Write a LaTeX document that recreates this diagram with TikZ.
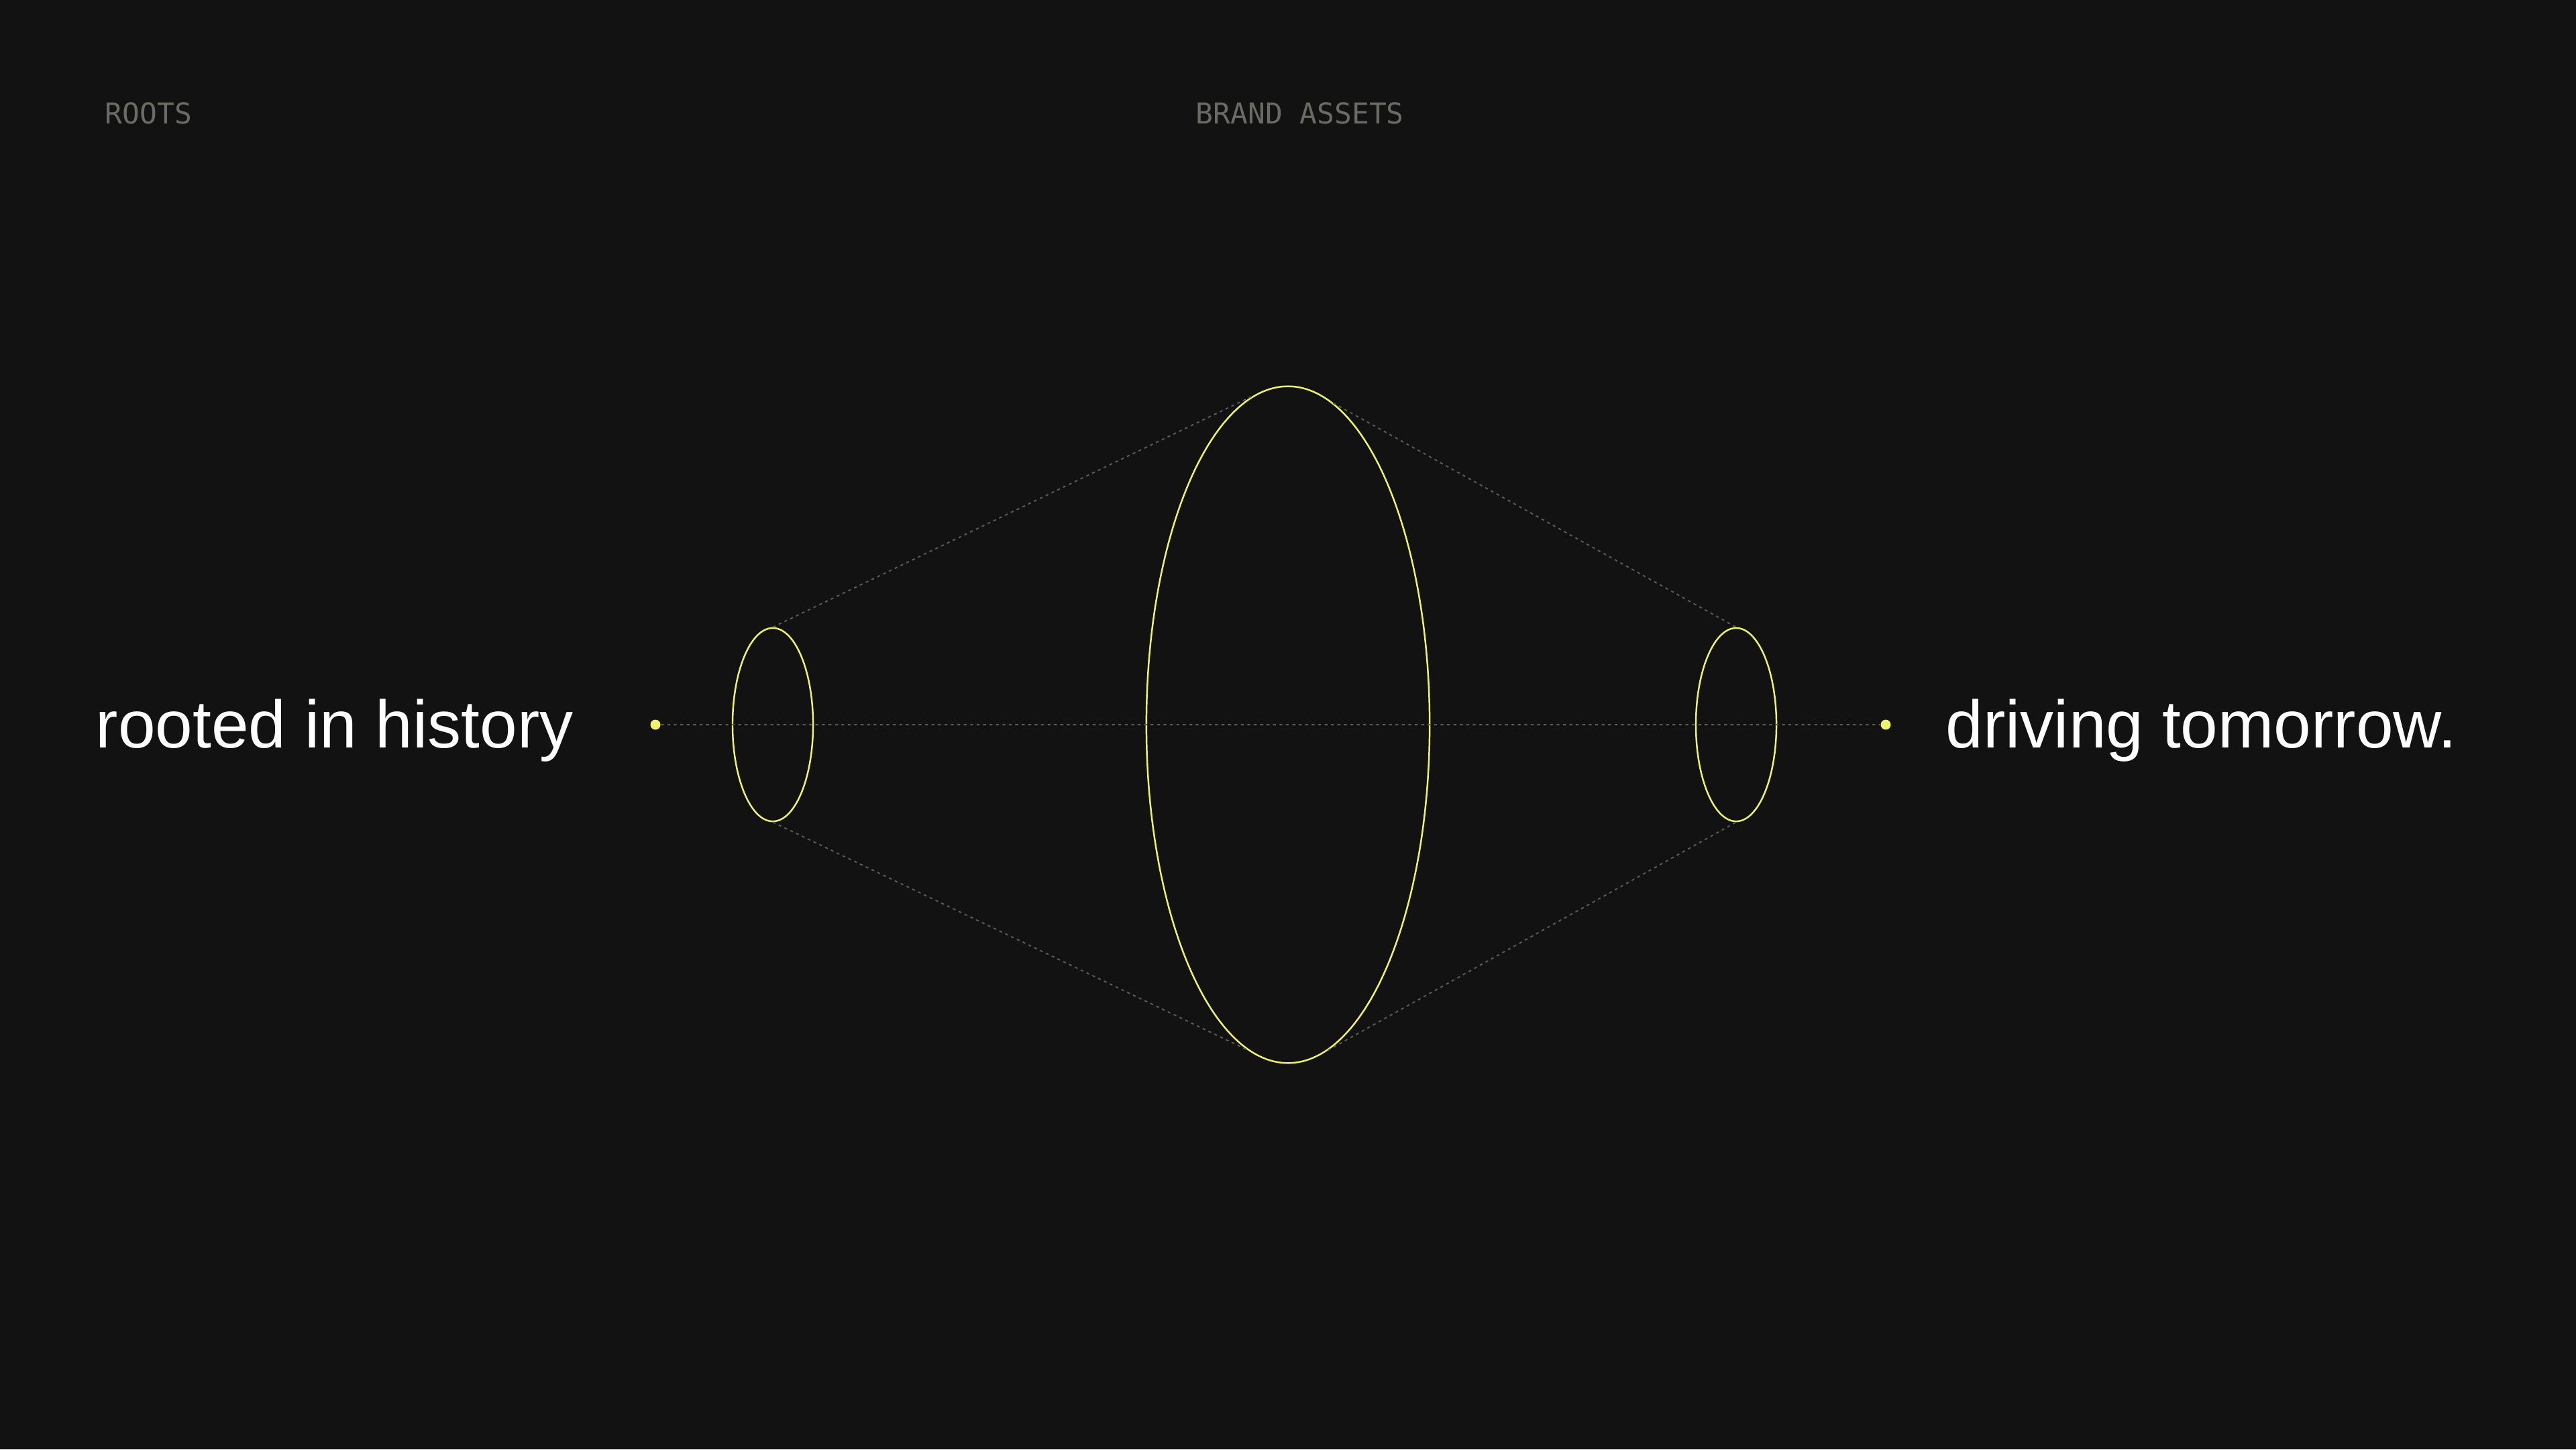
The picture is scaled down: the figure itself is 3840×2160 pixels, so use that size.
\documentclass[tikz,border=0pt]{standalone}
\usepackage{fontspec}
\setmainfont{Liberation Sans}
\newfontfamily\labelmono{DejaVu Sans Mono}
\usetikzlibrary{positioning,shapes.geometric}
\definecolor{bgdark}{HTML}{121212}
\definecolor{lime}{HTML}{EEF36C}
\definecolor{guide}{HTML}{5C5C58}
\definecolor{caption}{HTML}{6B6B66}

\begin{document}
\begin{tikzpicture}[x=0.01cm, y=-0.01cm,
    lens/.style={ellipse, draw=lime, line width=0.7pt, inner sep=0pt},
    guideline/.style={draw=guide, line width=0.55pt, dash pattern=on 0.043cm off 0.053cm},
    endpoint/.style={circle, fill=lime, inner sep=0pt, minimum size=0.15cm},
    tagtext/.style={font=\labelmono\fontsize{12.2pt}{14pt}\selectfont, text=caption, inner sep=0pt, anchor=base west},
    bigtext/.style={font=\fontsize{28.45pt}{34pt}\selectfont, text=white, inner sep=0pt, anchor=base west}]
      \fill[bgdark] (0,0) rectangle (3840,2160);
      \useasboundingbox (0,0) rectangle (3840,2160);
      \node[tagtext] (roots) at (156,184) {ROOTS};
      \node[tagtext] (assets) at (1782,184) {BRAND ASSETS};
      \node[lens, minimum width=1.2cm, minimum height=2.88cm] (lensleft) at (1152,1080) {};
      \node[lens, minimum width=4.22cm, minimum height=10.08cm] (lensmid) at (1920,1080) {};
      \node[lens, minimum width=1.2cm, minimum height=2.88cm] (lensright) at (2588,1080) {};
      \node[endpoint] (dotleft) at (977,1080) {};
      \node[endpoint] (dotright) at (2811,1080) {};
      \node[bigtext] (past) at (142,1114) {rooted in history};
      \node[bigtext] (future) at (2900,1114) {driving tomorrow.};
      \draw[guideline]
        (dotleft) -- (dotright)
        (lensleft.north) -- (lensmid.96.7)
        (lensleft.south) -- (lensmid.263.3)
        (lensmid.82.3) -- (lensright.north)
        (lensmid.277.7) -- (lensright.south);
    \end{tikzpicture}
\end{document}
